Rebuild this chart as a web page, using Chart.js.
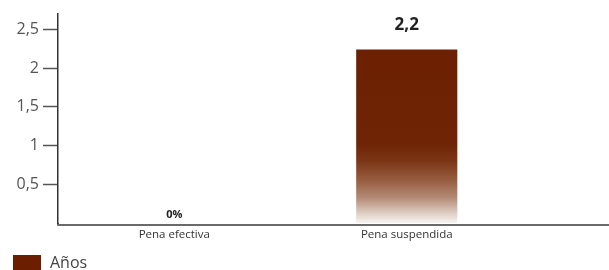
<!DOCTYPE html>
<html>
<head>
<meta charset="utf-8">
<script src="https://cdn.jsdelivr.net/npm/chart.js@4/dist/chart.umd.min.js"></script>
<style>
  html, body { margin: 0; padding: 0; background: #fff; }
  #wrap { width: 609px; height: 270px; position: relative; overflow: hidden; }
  #leyenda { position: absolute; left: 13px; top: 251px; font: 16px "Open Sans", sans-serif; color: #444; white-space: nowrap; }
  #leyenda span.caja { display: inline-block; width: 28px; height: 15px; vertical-align: -2px; margin-right: 9px; }
</style>
</head>
<body>
<div id="wrap"><canvas id="grafico"></canvas><div id="leyenda"></div></div>
<script>
// datos del grafico
var categorias = ['Pena efectiva', 'Pena suspendida'];
var anos = [0, 2.24];
var etiquetas = ['0%', '2,2'];
var serie = 'Años';
var ticksY = [0.5, 1, 1.5, 2, 2.5];

var marron = '#6b1f00';

// degradado de la barra: marron arriba, casi blanco abajo
function degradado(context) {
    var chart = context.chart;
    var area = chart.chartArea;
    if (!area) return marron;
    var g = chart.ctx.createLinearGradient(0, area.top, 0, area.bottom);
    g.addColorStop(0, marron);
    g.addColorStop(0.62, '#6e2405');
    g.addColorStop(0.70, '#7b3515');
    g.addColorStop(0.79, '#955a3d');
    g.addColorStop(0.88, '#b48a76');
    g.addColorStop(0.95, '#dccbc0');
    g.addColorStop(1, '#f8f4f1');
    return g;
}

// textos encima de las barras
var etiquetasPlugin = {
    id: 'etiquetas',
    afterDatasetsDraw: function(chart) {
        var ctx = chart.ctx;
        var meta = chart.getDatasetMeta(0);
        ctx.save();
        ctx.textAlign = 'center';
        ctx.textBaseline = 'bottom';
        ctx.fillStyle = '#222';
        meta.data.forEach(function(bar, i) {
            var grande = anos[i] > 0;
            ctx.font = 'bold ' + (grande ? 17 : 11) + 'px "Open Sans", sans-serif';
            ctx.fillText(etiquetas[i], bar.x, bar.y - (grande ? 16 : 3));
        });
        ctx.restore();
    }
};

// la linea del eje x sigue hasta el borde derecho
var ejePlugin = {
    id: 'ejeLargo',
    afterDraw: function(chart) {
        var a = chart.chartArea;
        var ctx = chart.ctx;
        var y = Math.round(a.bottom) + 2;
        ctx.save();
        ctx.strokeStyle = '#333';
        ctx.lineWidth = 1.5;
        ctx.beginPath();
        ctx.moveTo(a.left, a.bottom);
        ctx.lineTo(a.left, y);
        ctx.stroke();
        ctx.strokeStyle = '#6a6a6a';
        ctx.lineWidth = 2;
        ctx.beginPath();
        ctx.moveTo(a.left - 0.75, y);
        ctx.lineTo(chart.width, y);
        ctx.stroke();
        ctx.restore();
    }
};

var ctx = document.getElementById('grafico').getContext('2d');
var chart = new Chart(ctx, {
    type: 'bar',
    data: {
        labels: categorias,
        datasets: [{
            label: serie,
            data: anos,
            backgroundColor: degradado,
            borderWidth: 0,
            barPercentage: 0.87,
            categoryPercentage: 0.5
        }]
    },
    options: {
        responsive: true,
        maintainAspectRatio: false,
        animation: false,
        layout: {
            padding: { top: 12, right: 86, left: 0, bottom: 29 }
        },
        scales: {
            x: {
                afterFit: function(scale) { scale.height = 18; },
                grid: { display: false, drawTicks: false },
                border: { display: false },
                ticks: {
                    color: '#333',
                    font: { family: '"Open Sans", sans-serif', size: 11.5 },
                    padding: 5
                }
            },
            y: {
                min: 0,
                max: 2.705,
                afterBuildTicks: function(scale) {
                    scale.ticks = ticksY.map(function(v) { return { value: v }; });
                },
                afterFit: function(scale) { scale.width = 58; },
                grid: {
                    drawOnChartArea: false,
                    drawTicks: true,
                    tickLength: 15,
                    tickWidth: 1.5,
                    color: '#555'
                },
                border: { display: true, color: '#333', width: 1.5 },
                ticks: {
                    color: '#555',
                    padding: 4,
                    font: { family: '"Open Sans", sans-serif', size: 16 },
                    callback: function(v) { return String(v).replace('.', ','); }
                }
            }
        },
        plugins: {
            tooltip: { enabled: false },
            legend: { display: false }
        }
    },
    plugins: [etiquetasPlugin, ejePlugin]
});

// leyenda
var ley = document.getElementById('leyenda');
var caja = document.createElement('span');
caja.className = 'caja';
caja.style.background = marron;
ley.appendChild(caja);
ley.appendChild(document.createTextNode(serie));
</script>
</body>
</html>
